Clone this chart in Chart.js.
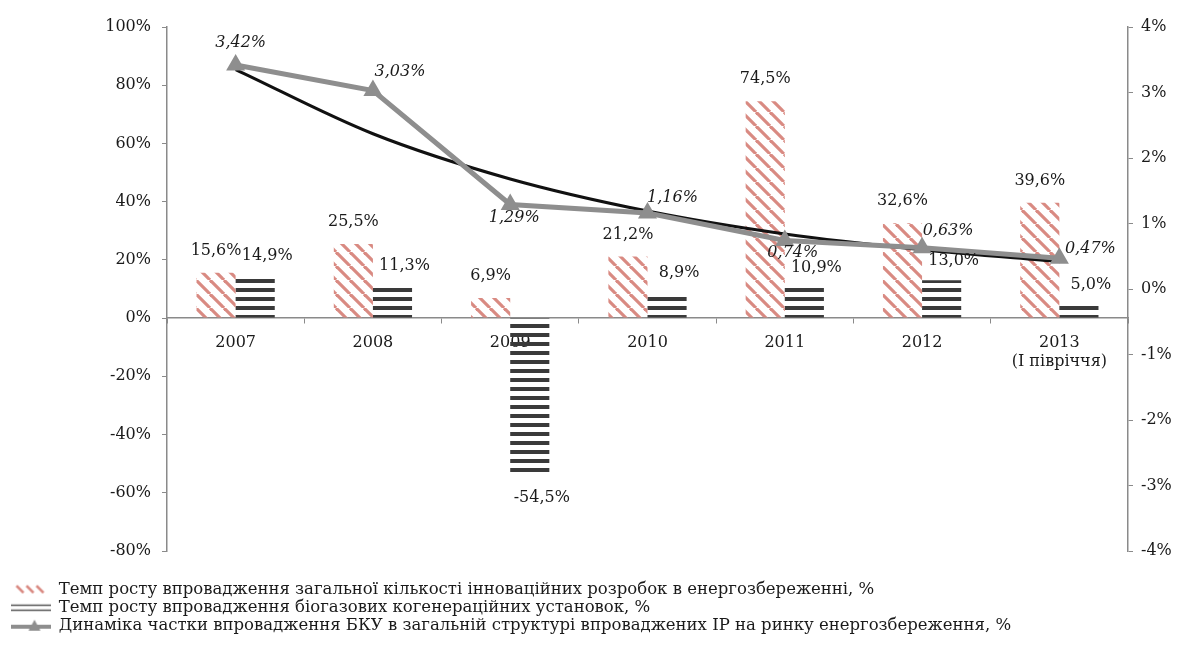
<!DOCTYPE html>
<html>
<head>
<meta charset="utf-8">
<script src="https://cdn.jsdelivr.net/npm/chart.js@4/dist/chart.umd.min.js"></script>
<style>
  html, body { margin: 0; background: #fff; }
  #wrap { width: 1185px; height: 648px; }
</style>
</head>
<body>
<div id="wrap"><canvas id="chart"></canvas></div>
<script>
// Data
const years = ['2007', '2008', '2009', '2010', '2011', '2012', ['2013', '(I півріччя)']];
const innovGrowth = [15.6, 25.5, 6.9, 21.2, 74.5, 32.6, 39.6];
const biogasGrowth = [14.9, 11.3, -54.5, 8.9, 10.9, 13.0, 5.0];
const bkuShare = [3.42, 3.03, 1.29, 1.16, 0.74, 0.63, 0.47];
const bkuTrend = [3.35, 2.37, 1.68, 1.19, 0.84, 0.60, 0.42];
const leftTicks = [-80, -60, -40, -20, 0, 20, 40, 60, 80, 100];
const rightTicks = [-4, -3, -2, -1, 0, 1, 2, 3, 4];
const seriesNames = [
  'Темп росту впровадження загальної кількості інноваційних розробок в енергозбереженні, %',
  'Темп росту впровадження біогазових когенераційних установок, %',
  'Динаміка частки впровадження БКУ в загальній структурі впроваджених ІР на ринку енергозбереження, %',
  'Тренд'
];

const canvas = document.getElementById('chart');
const ctx = canvas.getContext('2d');

const FONT = '"DejaVu Serif", "Liberation Serif", serif';
const TEXT = '#1a1a1a';
const AXIS = '#8a8a8a';
const SALMON = '#d98a82';
const STRIPE = '#3a3a3a';
const GREY_LINE = '#8e8e8e';

// fill patterns
function diagPattern() {
  const s = 14;
  const c = document.createElement('canvas');
  c.width = s; c.height = s;
  const g = c.getContext('2d');
  g.strokeStyle = SALMON;
  g.lineWidth = 3.2;
  for (let k = -1; k <= 1; k++) {
    g.beginPath();
    g.moveTo(k * s, 0);
    g.lineTo(k * s + s, s);
    g.stroke();
  }
  return ctx.createPattern(c, 'repeat');
}

function stripePattern() {
  const c = document.createElement('canvas');
  c.width = 8; c.height = 9;
  const g = c.getContext('2d');
  g.fillStyle = STRIPE;
  g.fillRect(0, 0, 8, 4);
  return ctx.createPattern(c, 'repeat');
}

// legend icons
function legendIcon(kind) {
  const c = document.createElement('canvas');
  c.width = 40; c.height = 14;
  const g = c.getContext('2d');
  if (kind === 0) {
    g.strokeStyle = SALMON;
    g.lineWidth = 2.5;
    [6, 16, 26].forEach(x0 => {
      g.beginPath(); g.moveTo(x0, 3); g.lineTo(x0 + 7, 10); g.stroke();
    });
  } else if (kind === 1) {
    g.strokeStyle = '#555';
    g.lineWidth = 1.6;
    [4.5, 9.5].forEach(y => {
      g.beginPath(); g.moveTo(0, y); g.lineTo(40, y); g.stroke();
    });
  } else {
    g.strokeStyle = GREY_LINE;
    g.lineWidth = 4;
    g.beginPath(); g.moveTo(0, 8); g.lineTo(40, 8); g.stroke();
    g.fillStyle = GREY_LINE;
    g.beginPath(); g.moveTo(24, 1); g.lineTo(30, 12); g.lineTo(18, 12); g.closePath(); g.fill();
  }
  return c;
}
const legendIcons = [legendIcon(0), legendIcon(1), legendIcon(2)];

// where each line label sits relative to its point
const lineLabelShift = [[5, -22], [27, -19], [4, 13], [25, -15], [8, 12], [26, -17], [31, -9]];

function fmt(v, d) {
  return v.toFixed(d).replace('.', ',') + '%';
}

const valueLabels = {
  id: 'valueLabels',
  afterDatasetsDraw(chart) {
    const c = chart.ctx;
    c.save();
    c.textAlign = 'center';
    c.textBaseline = 'middle';
    c.fillStyle = TEXT;
    c.font = '16px ' + FONT;
    chart.getDatasetMeta(0).data.forEach((bar, i) => {
      c.fillText(fmt(innovGrowth[i], 1), bar.x, bar.y - 22);
    });
    chart.getDatasetMeta(1).data.forEach((bar, i) => {
      const v = biogasGrowth[i];
      c.fillText(fmt(v, 1), bar.x + 12, v < 0 ? bar.y + 21 : bar.y - 19);
    });
    c.font = 'italic 16px ' + FONT;
    chart.getDatasetMeta(2).data.forEach((pt, i) => {
      const [dx, dy] = lineLabelShift[i];
      c.fillText(fmt(bkuShare[i], 2), pt.x + dx, pt.y + dy);
    });
    c.restore();
  }
};

new Chart(canvas, {
  type: 'bar',
  data: {
    labels: years,
    datasets: [
      {
        label: seriesNames[0],
        data: innovGrowth,
        backgroundColor: diagPattern(),
        borderWidth: 0,
        yAxisID: 'y',
        order: 3
      },
      {
        label: seriesNames[1],
        data: biogasGrowth,
        backgroundColor: stripePattern(),
        borderWidth: 0,
        yAxisID: 'y',
        order: 3
      },
      {
        type: 'line',
        label: seriesNames[2],
        data: bkuShare,
        yAxisID: 'y2',
        borderColor: GREY_LINE,
        backgroundColor: GREY_LINE,
        borderWidth: 5,
        pointStyle: 'triangle',
        pointRadius: 6,
        pointBackgroundColor: GREY_LINE,
        pointBorderColor: GREY_LINE,
        order: 1
      },
      {
        type: 'line',
        label: seriesNames[3],
        data: bkuTrend,
        yAxisID: 'y2',
        borderColor: '#111',
        borderWidth: 3,
        pointRadius: 0,
        cubicInterpolationMode: 'monotone',
        order: 2
      }
    ]
  },
  options: {
    responsive: true,
    maintainAspectRatio: false,
    animation: false,
    datasets: {
      bar: { barPercentage: 1, categoryPercentage: 0.57 }
    },
    layout: { padding: { left: 9, right: 0, top: 27, bottom: 4 } },
    scales: {
      x: {
        type: 'category',
        position: { y: 0 },
        grid: { offset: true, drawOnChartArea: false, drawTicks: true, tickLength: 5, color: AXIS },
        border: { color: AXIS, width: 1.5 },
        ticks: { color: TEXT, font: { family: FONT, size: 16 }, padding: 10, maxRotation: 0 }
      },
      xGap: {
        type: 'category',
        position: 'bottom',
        grid: { display: false },
        border: { display: false },
        ticks: { display: false },
        afterFit(s) { s.height = 29; }
      },
      y: {
        position: 'left',
        min: -80,
        max: 100,
        afterBuildTicks(s) { s.ticks = leftTicks.map(v => ({ value: v })); },
        afterFit(s) { s.width = 158; },
        grid: { drawOnChartArea: false, drawTicks: true, tickLength: 5, color: AXIS },
        border: { color: AXIS, width: 1.5 },
        ticks: { color: TEXT, font: { family: FONT, size: 16 }, padding: 11, callback: v => v + '%' }
      },
      y2: {
        position: 'right',
        min: -4,
        max: 4,
        afterBuildTicks(s) { s.ticks = rightTicks.map(v => ({ value: v })); },
        afterFit(s) { s.width = 57; },
        grid: { drawOnChartArea: false, drawTicks: true, tickLength: 5, color: AXIS },
        border: { color: AXIS, width: 1.5 },
        ticks: { color: TEXT, font: { family: FONT, size: 16 }, padding: 8, callback: v => v + '%' }
      }
    },
    plugins: {
      tooltip: { enabled: false },
      legend: {
        position: 'bottom',
        align: 'start',
        labels: {
          usePointStyle: true,
          pointStyleWidth: 40,
          padding: 1.5,
          color: TEXT,
          font: { family: FONT, size: 16.5 },
          generateLabels(chart) {
            const items = Chart.defaults.plugins.legend.labels.generateLabels(chart);
            return items
              .filter(it => it.datasetIndex < 3)
              .sort((a, b) => a.datasetIndex - b.datasetIndex)
              .map(it => Object.assign(it, { pointStyle: legendIcons[it.datasetIndex] }));
          }
        }
      }
    }
  },
  plugins: [valueLabels]
});
</script>
</body>
</html>
